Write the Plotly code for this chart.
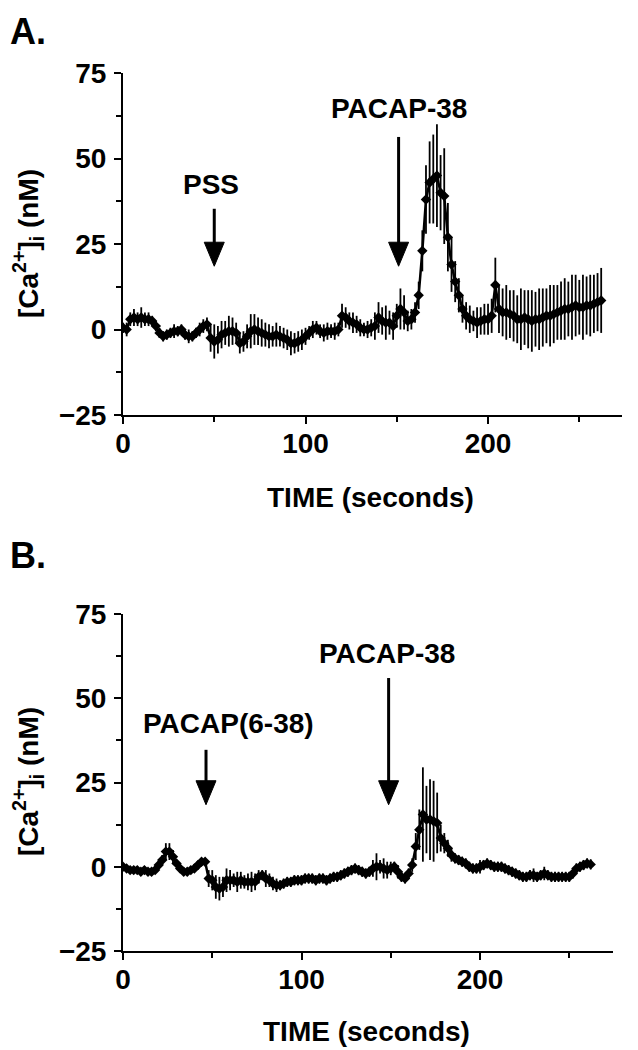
import plotly.graph_objects as go

# ---------------- data ----------------
time_a = list(range(0, 264, 2))
ca_a = [0.5, 0, 3, 3.5, 3, 3.5, 3, 3, 2.5, 1,
        -1, -2, -1.5, -1, -0.5, -0.5, 0, -1.5, -2, -2,
        -1, 0, 1, 1.5, -2.5, -3.5, -3, -1.5, -1, -0.5,
        -0.5, -1, -4, -3.5, -2, -0.5, 0, -0.5, -1, -1.5,
        -2, -2, -1.5, -2, -2.5, -3, -4, -4, -3.5, -3,
        -2, -1, 0, 0.5, -0.5, -1, -0.5, -0.5, -0.5, 0,
        4, 3.5, 2.5, 2, 1.5, 0.5, 0, 0, 0.5, 1,
        3.5, 2.5, 2, 2, 1, 4, 6, 5, 2.5, 3,
        5, 10, 23, 38, 43, 44, 45, 40, 39, 27,
        19, 14, 10, 6, 4, 3, 2.5, 2, 2.5, 3,
        3, 4, 13, 6, 5, 5, 4.5, 4, 3, 3,
        3.5, 3, 2.5, 3, 3, 3.5, 4, 4, 4.5, 5,
        5.5, 6, 6, 6.5, 7, 6.5, 6.5, 7, 7, 7.5,
        8, 8.5]
err_a = [1.5, 2, 2, 2.5, 2, 3, 2, 2, 1.5, 1.5,
         1.5, 1.5, 1.5, 1.5, 2, 1.5, 1.5, 1.5, 2, 1.5,
         1.5, 2, 2, 2, 4, 5, 4, 4, 3.5, 4.5,
         4, 3, 3, 3, 3.5, 5, 4.5, 4, 4, 3.5,
         3.5, 3, 3.5, 3, 3, 3, 3.5, 3, 3, 3,
         2.5, 2, 2.5, 2, 2, 2.5, 2.5, 2, 2.5, 2,
         3.5, 3, 2.5, 3, 2.5, 2.5, 2, 2.5, 2.5, 4,
         4.5, 4, 5, 3.5, 4, 3.5, 6, 5, 3, 3,
         3, 4, 6, 10, 12, 13, 15, 11, 14, 10,
         8, 6, 5, 4, 4, 4, 3, 4.5, 4, 4.5,
         4.5, 5, 8, 7, 7, 8, 7, 7.5, 7, 9,
         8, 8.5, 9, 8, 9, 8.5, 8, 9, 8.5, 8,
         8.5, 9, 8, 9.5, 9, 8, 9.5, 8.5, 9, 8.5,
         8.5, 9.5]

time_b = list(range(0, 264, 2))
ca_b = [0, -0.5, -1, -1, -1, -1.5, -1, -1.5, -1.5, -1,
        0.5, 2, 4.5, 4.5, 3, 1, -0.5, -1.5, -1.5, -1,
        -0.5, 0.5, 1.5, 1.5, -3.5, -4, -6, -6.5, -6, -4,
        -4, -4, -4.5, -4, -4.5, -4.5, -4.5, -4.5, -3, -2.5,
        -3.5, -4, -5, -5.5, -5.5, -5, -4.5, -4.5, -4, -4,
        -4, -3.5, -3.5, -3.5, -4, -3.5, -3.5, -4, -3.5, -3,
        -3, -2.5, -2, -1.5, -1, -0.5, -1, -1.5, -2, -1.5,
        -0.5, 0, 0, -0.5, -1, -0.5, 0, -1.5, -3, -3.5,
        -2, 0.5, 6, 11, 15.5, 14, 14, 13.5, 13, 8.5,
        7, 5.5, 3.5, 2.5, 2, 1.5, 1, 0, -0.5, -0.5,
        0, 0.5, 1, 0.5, 0, 0, 0, -0.5, -1, -1.5,
        -2, -2.5, -3, -3, -2.5, -2.5, -3, -2.5, -2, -2.5,
        -3, -3, -3, -3, -3, -3, -2, -0.5, 0, 0.5,
        1, 0.7]
err_b = [1, 1, 1, 1, 1, 1, 1, 1, 1, 1,
         1, 1.5, 2.5, 2.5, 2, 1, 1, 1, 1, 1,
         1, 1, 1, 1, 2.5, 3, 3.5, 3.5, 3, 3.5,
         3, 2, 3, 2.5, 2, 2.5, 3, 2.5, 2, 1.5,
         2.5, 2, 2, 2, 1.5, 1.5, 1.5, 1.5, 1.5, 1.5,
         1.5, 1.5, 1.5, 1.5, 1.5, 1.5, 1.5, 1.5, 1.5, 1.5,
         1.5, 1.5, 1.5, 1.5, 1.5, 1.5, 1.5, 1.5, 1.5, 1.5,
         2.5, 4, 2, 3, 2.5, 2, 1.5, 2, 1.5, 1.5,
         1.5, 2, 4, 6, 14, 10, 12, 12, 9, 4,
         3, 2.5, 2, 1.5, 1.5, 1.5, 1.5, 1.5, 1.5, 1.5,
         2, 1.5, 1.5, 1.5, 1.5, 1.5, 1.5, 1.5, 1.5, 1.5,
         1.5, 1.5, 1.5, 1.5, 1.5, 2, 1.5, 1.5, 2, 1.5,
         1.5, 1.5, 1.5, 1.5, 1.5, 1.5, 1.5, 1.5, 1.5, 1.5,
         1.5, 1.5]

y_ticks = [-25, 0, 25, 50, 75]
x_ticks = [0, 100, 200]

# event markers: (label, label x, label y, arrow x, arrow tip y, arrow tail y)
events_a = [("PSS", 48, 42.3, 50, 18.5, 35.3),
            ("PACAP-38", 151, 64.5, 151, 18.5, 56.3)]
events_b = [("PACAP(6-38)", 59, 42.4, 46.5, 18.4, 34.7),
            ("PACAP-38", 147.7, 63.2, 148.8, 18.4, 56)]

# ---------------- figure ----------------
OFF = 8                      # default page body margin of the html page
W, H = 638 - OFF, 1050 - OFF
px = lambda x: (x - OFF) / W          # page x pixel -> paper fraction
py = lambda y: (H - (y - OFF)) / H    # page y pixel -> paper fraction

FONT = "Liberation Sans, Arial, sans-serif"
tickfont = dict(family=FONT, size=28, color="black", weight="bold")
bold = lambda s: dict(family=FONT, size=s, color="black", weight="bold")

fig = go.Figure()

def add_series(x, y, e, xa, ya):
    fig.add_trace(go.Scatter(
        x=x, y=y, mode="lines+markers", xaxis=xa, yaxis=ya,
        line=dict(color="black", width=2.5),
        marker=dict(symbol="diamond", size=8, color="black"),
        error_y=dict(type="data", array=e, visible=True, color="black",
                     thickness=1.8, width=0),
        showlegend=False, hoverinfo="skip"))

add_series(time_a, ca_a, err_a, "x", "y")
add_series(time_b, ca_b, err_b, "x2", "y2")

def xaxis_cfg(domain, rng, anchor):
    return dict(domain=domain, range=rng, anchor=anchor, showgrid=False,
                zeroline=False, showline=True, linecolor="black", linewidth=2,
                ticks="outside", ticklen=7, tickwidth=2, tickcolor="black",
                tickvals=x_ticks, tickfont=tickfont, automargin=False,
                ticklabelstandoff=-5,
                minor=dict(dtick=50, tick0=0, ticks="outside", ticklen=5,
                           tickwidth=2, tickcolor="black"))

def yaxis_cfg(domain, anchor):
    return dict(domain=domain, range=[-25, 75], anchor=anchor, showgrid=False,
                zeroline=False, showline=True, linecolor="black", linewidth=2,
                ticks="outside", ticklen=7, tickwidth=2, tickcolor="black",
                tickvals=y_ticks, tickfont=tickfont, ticklabelstandoff=2,
                automargin=False,
                minor=dict(dtick=12.5, tick0=0, ticks="outside", ticklen=5,
                           tickwidth=2, tickcolor="black"))

fig.update_layout(
    width=W, height=H,
    margin=dict(l=0, r=0, t=0, b=0, autoexpand=False),
    paper_bgcolor="white", plot_bgcolor="white",
    xaxis=xaxis_cfg([px(123), px(622)], [0, 273.4], "y"),
    yaxis=yaxis_cfg([py(415), py(73)], "x"),
    xaxis2=xaxis_cfg([px(123), px(613)], [0, 274.5], "y2"),
    yaxis2=yaxis_cfg([py(951), py(614)], "x2"),
)

annots = []
# panel letters
for t, ycen in [("A.", 32), ("B.", 556)]:
    annots.append(dict(text=t, x=px(OFF), y=py(ycen), xref="paper", yref="paper",
                       xanchor="left", yanchor="middle", showarrow=False,
                       font=bold(36)))

# axis titles
for cy in [244, 782]:
    annots.append(dict(text="[Ca<sup>2+</sup>]<sub>i</sub> (nM)", x=px(28), y=py(cy),
                       xref="paper", yref="paper", textangle=-90,
                       xanchor="center", yanchor="middle", showarrow=False,
                       font=bold(28)))
for cx, cy in [(370, 497), (366, 1031)]:
    annots.append(dict(text="TIME (seconds)", x=px(cx), y=py(cy),
                       xref="paper", yref="paper",
                       xanchor="center", yanchor="middle", showarrow=False,
                       font=bold(28)))

shapes = []
for events, xr, yr in [(events_a, "x", "y"), (events_b, "x2", "y2")]:
    for label, lx, ly, axx, tip, tail in events:
        annots.append(dict(text=label, x=lx, y=ly, xref=xr, yref=yr, showarrow=False,
                           xanchor="center", yanchor="middle", font=bold(28)))
        # arrow shaft
        shapes.append(dict(type="line", xref=xr, yref=yr, x0=axx, x1=axx,
                           y0=tail, y1=tip + 4, line=dict(color="black", width=3)))
        # arrow head (pixel-sized triangle anchored at the tip)
        shapes.append(dict(type="path", xref=xr, yref=yr,
                           xsizemode="pixel", ysizemode="pixel",
                           xanchor=axx, yanchor=tip,
                           path="M -10,24 L 10,24 L 0,0 Z",
                           fillcolor="black", line=dict(color="black", width=1)))

fig.update_layout(annotations=annots, shapes=shapes)

fig.write_html("out.html")
